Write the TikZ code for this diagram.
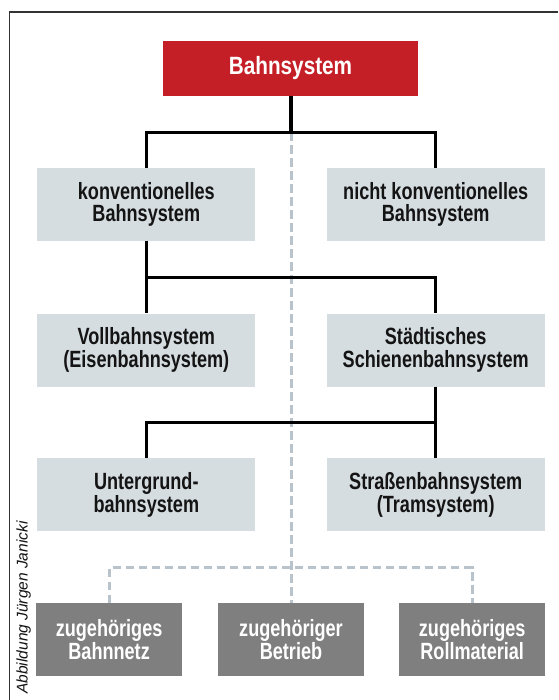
\documentclass[tikz,border=0pt]{standalone}
\usepackage{fontspec}
\setmainfont{Liberation Sans}[FakeStretch=0.77]
\newfontfamily\titlefont{Liberation Sans}[FakeStretch=0.83]
\newfontfamily\creditfont{Liberation Sans}
\definecolor{bsred}{RGB}{196,31,38}
\definecolor{bslight}{RGB}{214,221,225}
\definecolor{bsdark}{RGB}{128,127,128}
\definecolor{bsdash}{RGB}{185,195,203}
\definecolor{bstext}{RGB}{20,20,20}
\begin{document}
\begin{tikzpicture}[x=1pt,y=-1pt,
  boxbase/.style={inner sep=0pt, align=center, font=\fontsize{23.5}{22.5}\selectfont\bfseries},
  topbox/.style={boxbase, fill=bsred, text=white, minimum width=255pt, minimum height=55.3pt, font=\titlefont\fontsize{25}{26}\selectfont\bfseries},
  lightbox/.style={boxbase, fill=bslight, text=bstext, minimum width=218pt, minimum height=73pt},
  darkbox/.style={boxbase, fill=bsdark, text=white, minimum width=145.6pt, minimum height=72.4pt},
  conn/.style={line width=3.2pt, black},
  dashconn/.style={line width=3pt, bsdash, dash pattern=on 8.5pt off 4.5pt}
]
\useasboundingbox (0,0) rectangle (558,700);
\fill[white] (0,0) rectangle (558,700);
\draw[line width=1.2pt, black!80] (9.5,700) -- (9.5,12) -- (558,12);

\node[topbox] (top) at (290.5,68.3) {Bahnsystem};
\node[lightbox] (kL) at (146.3,204.3) {konventionelles\\Bahnsystem};
\node[lightbox] (kR) at (435.7,204.3) {nicht konventionelles\\Bahnsystem};
\node[lightbox] (vL) at (146.3,350) {Vollbahnsystem\\(Eisenbahnsystem)};
\node[lightbox] (vR) at (435.7,350) {Städtisches\\Schienenbahnsystem};
\node[lightbox] (uL) at (146.3,494.7) {Untergrund-\\bahnsystem};
\node[lightbox] (uR) at (435.7,494.7) {Straßenbahnsystem\\(Tramsystem)};
\node[darkbox] (bL) at (109.1,639.5) {zugehöriges\\Bahnnetz};
\node[darkbox] (bM) at (291,639.5) {zugehöriger\\Betrieb};
\node[darkbox] (bR) at (472.2,639.5) {zugehöriges\\Rollmaterial};

\node[rotate=90, inner sep=0pt, font=\creditfont\fontsize{15.5}{17}\selectfont\itshape, text=bstext] (credit) at (23.5,607.5) {Abbildung Jürgen Janicki};

\coordinate (hub) at (291,132.3);
\draw[dashconn] (hub) -- (bM.north);
\draw[dashconn] (bL.north) -- ++(0,-35.3) -| (bR.north);

\draw[conn] (top.south -| hub) -- (hub);
\draw[conn] (kL.north) |- (hub) -| (kR.north);
\draw[conn] (kL.south) -- (vL.north);
\draw[conn] (kL.south) -- ++(0,36.3) -| (vR.north);
\draw[conn] (vR.south) -- (uR.north);
\draw[conn] (vR.south) -- ++(0,35.8) -| (uL.north);
\end{tikzpicture}
\end{document}
